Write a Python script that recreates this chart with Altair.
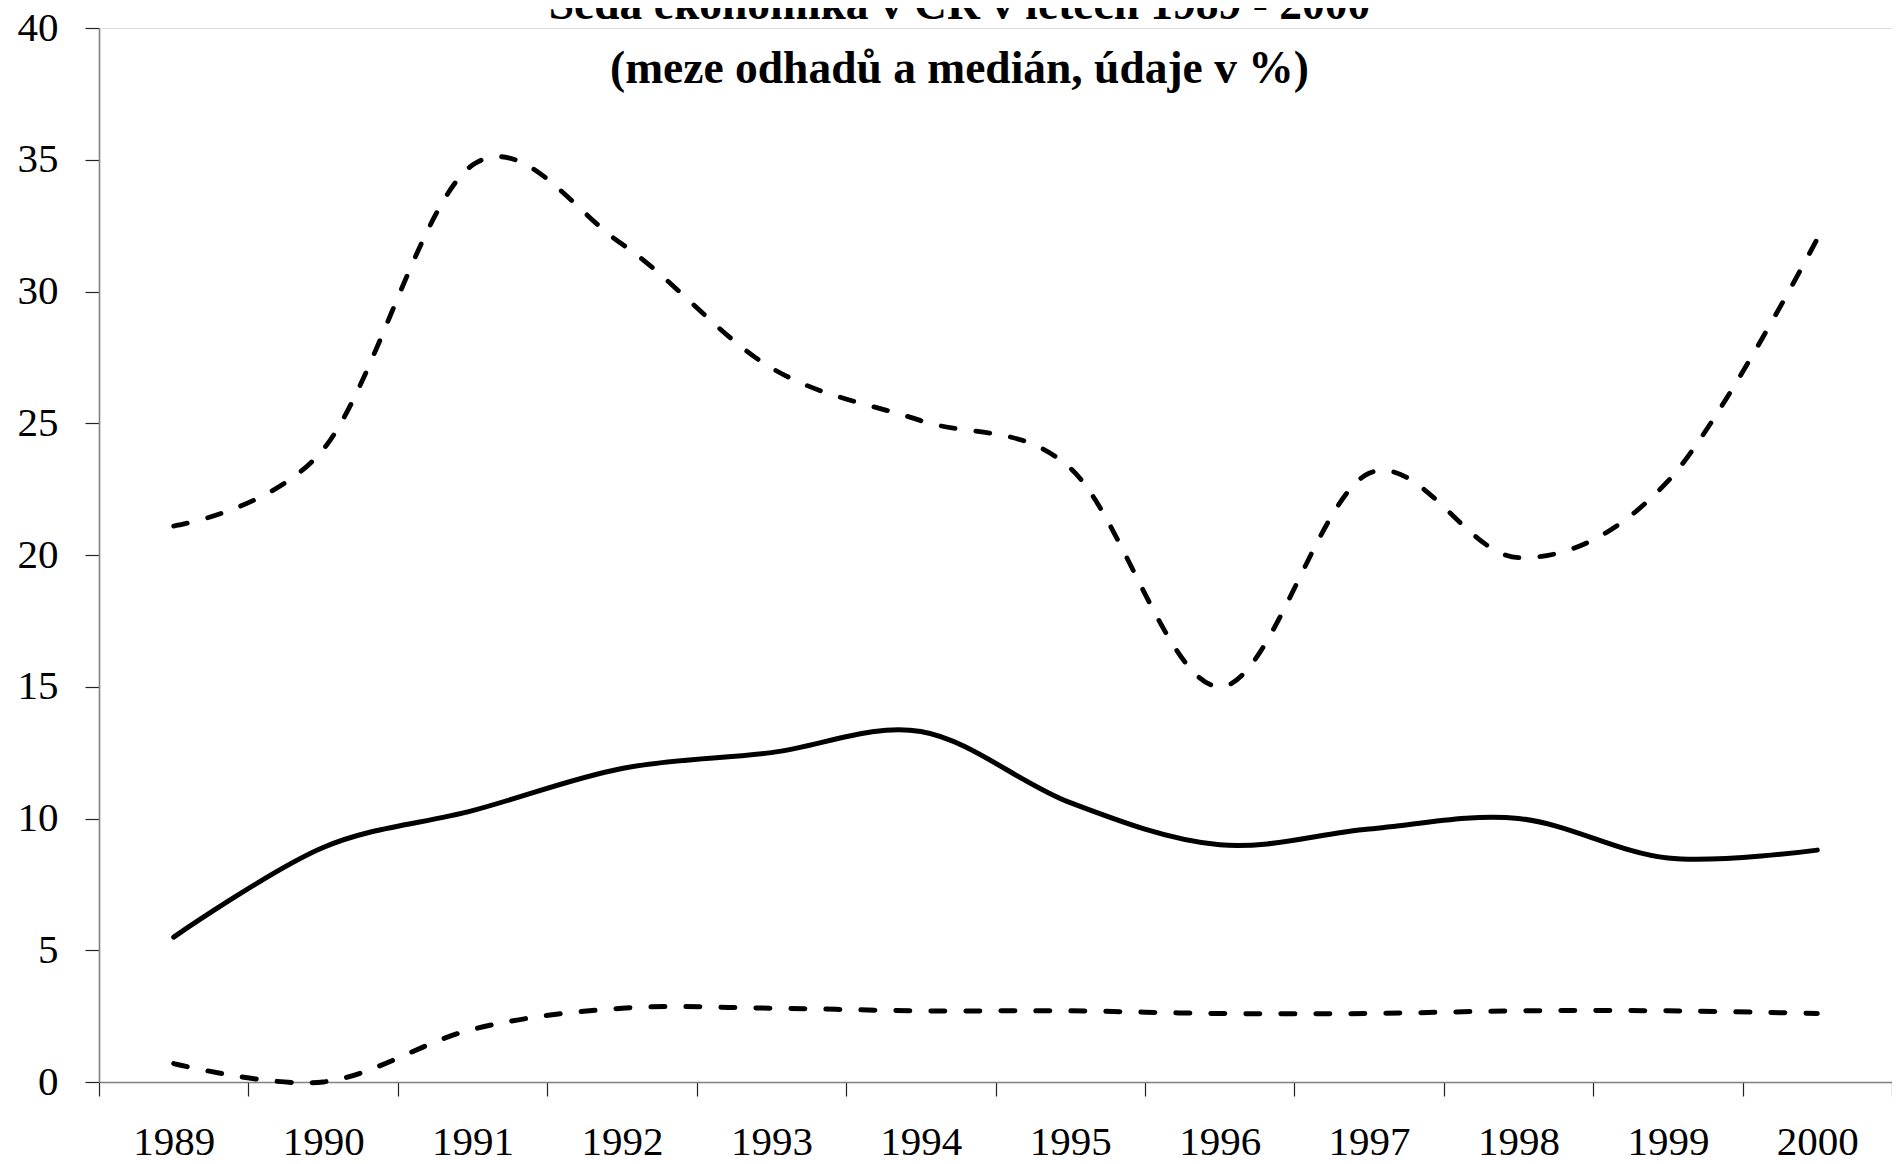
import altair as alt
import pandas as pd

years = [1989, 1990, 1991, 1992, 1993, 1994, 1995, 1996, 1997, 1998, 1999, 2000]
upper = [21.1, 24.0, 34.8, 31.8, 27.1, 25.1, 23.3, 15.0, 23.1, 19.9, 22.8, 32.0]
median = [5.5, 8.9, 10.3, 11.9, 12.5, 13.3, 10.6, 9.0, 9.6, 10.0, 8.5, 8.8]
lower = [0.7, 0.0, 2.0, 2.8, 2.8, 2.7, 2.7, 2.6, 2.6, 2.7, 2.7, 2.6]

y_ticks = [0, 5, 10, 15, 20, 25, 30, 35, 40]
title_lines = ["Šedá ekonomika v ČR v letech 1989 - 2000", "(meze odhadů a medián, údaje v %)"]

rows = []
for name, vals in [("horní mez", upper), ("medián", median), ("dolní mez", lower)]:
    for yr, v in zip(years, vals):
        rows.append({"rok": yr, "hodnota": v, "řada": name})
df = pd.DataFrame(rows)

boundaries = [yr - 0.5 for yr in years] + [years[-1] + 0.5]

FONT = "Liberation Serif"
x_scale = alt.Scale(domain=[years[0] - 0.5, years[-1] + 0.5], nice=False, zero=False)
y_scale = alt.Scale(domain=[0, 40], nice=False)

tick_axis = alt.Axis(
    title=None,
    orient="bottom",
    values=boundaries,
    labels=False,
    tickSize=14,
    tickColor="#222222",
    tickWidth=1.2,
    domainColor="#808080",
    domainWidth=1.6,
    grid=False,
)
label_axis = alt.Axis(
    title=None,
    orient="bottom",
    values=years,
    format="d",
    ticks=False,
    domain=False,
    labelFont=FONT,
    labelFontSize=41,
    labelColor="black",
    labelPadding=40,
    labelFlush=False,
    labelOverlap=False,
    grid=False,
)
y_axis = alt.Axis(
    title=None,
    values=y_ticks,
    tickSize=14,
    tickColor="#222222",
    tickWidth=1.2,
    domainColor="#808080",
    domainWidth=1.6,
    labelFont=FONT,
    labelFontSize=41,
    labelColor="black",
    labelPadding=27,
    labelFlush=False,
    grid=False,
)

base = alt.Chart(df)
y_enc = alt.Y("hodnota:Q", scale=y_scale, axis=y_axis)

upper_line = base.transform_filter(alt.datum["řada"] == "horní mez").mark_line(
    interpolate="cardinal", tension=0, color="black", strokeWidth=4.8,
    strokeDash=[14, 21], strokeCap="round",
).encode(
    x=alt.X("rok:Q", scale=x_scale, axis=tick_axis),
    y=y_enc,
)

median_line = base.transform_filter(alt.datum["řada"] == "medián").mark_line(
    interpolate="cardinal", tension=0, color="black", strokeWidth=5, strokeCap="round",
).encode(
    x=alt.X("rok:Q", scale=x_scale, axis=label_axis),
    y=y_enc,
)

lower_line = base.transform_filter(alt.datum["řada"] == "dolní mez").mark_line(
    interpolate="cardinal", tension=0, color="black", strokeWidth=5,
    strokeDash=[14, 21], strokeCap="round",
).encode(
    x=alt.X("rok:Q", scale=x_scale, axis=None),
    y=y_enc,
)

chart = alt.layer(upper_line, median_line, lower_line).resolve_axis(
    x="independent"
).properties(
    width=1793,
    height=1054,
    autosize=alt.AutoSizeParams(type="none"),
    padding={"left": 91, "top": 20, "right": 0, "bottom": 90},
    title=alt.TitleParams(
        text=title_lines,
        font=FONT,
        fontSize=45.5,
        fontWeight="bold",
        color="black",
        lineHeight=64,
        anchor="middle",
        frame="group",
        dx=-36,
        offset=-85,
    ),
).configure_view(stroke="transparent", strokeWidth=0).configure(background="white")

chart.save("out.html", embed_options={"renderer": "svg", "actions": False})
